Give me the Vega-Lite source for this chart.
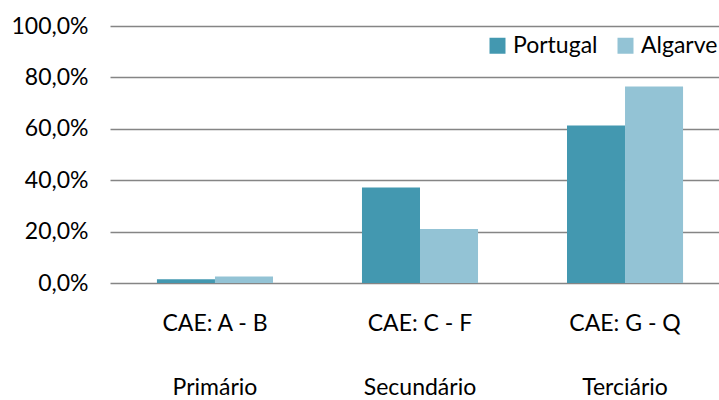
{
  "$schema": "https://vega.github.io/schema/vega-lite/v6.json",
  "width": 620,
  "height": 257,
  "autosize": {"type": "none"},
  "padding": {"left": 110, "top": 26, "right": 0, "bottom": 117},
  "background": "white",
  "config": {"view": {"stroke": null}, "font": "Lato"},
  "data": {"values": [
    {"grupo": "CAE: A - B|Primário", "serie": "Portugal", "valor": 0.015},
    {"grupo": "CAE: A - B|Primário", "serie": "Algarve", "valor": 0.025},
    {"grupo": "CAE: C - F|Secundário", "serie": "Portugal", "valor": 0.372},
    {"grupo": "CAE: C - F|Secundário", "serie": "Algarve", "valor": 0.21},
    {"grupo": "CAE: G - Q|Terciário", "serie": "Portugal", "valor": 0.613},
    {"grupo": "CAE: G - Q|Terciário", "serie": "Algarve", "valor": 0.765}
  ]},
  "mark": {"type": "bar"},
  "encoding": {
    "x": {
      "field": "grupo", "type": "nominal", "sort": null,
      "scale": {"paddingInner": 0.434, "paddingOuter": 0.229},
      "axis": {
        "title": null, "labelAngle": 0, "ticks": false, "domain": false,
        "labelExpr": "split(datum.value, '|')",
        "labelLineHeight": 64, "labelFontSize": 23, "labelColor": "#000000",
        "labelPadding": 29, "labelBaseline": "top"
      }
    },
    "xOffset": {"field": "serie", "type": "nominal", "sort": ["Portugal", "Algarve"], "scale": {"paddingInner": 0}},
    "y": {
      "field": "valor", "type": "quantitative",
      "scale": {"domain": [0, 1]},
      "axis": {
        "title": null, "values": [0, 0.2, 0.4, 0.6, 0.8, 1],
        "labelExpr": "replace(format(datum.value, '.1%'), '.', ',')",
        "ticks": false, "domain": false, "labelPadding": 22,
        "labelFontSize": 23, "labelColor": "#000000",
        "grid": true, "gridColor": "#858585", "gridWidth": 1.6
      }
    },
    "color": {
      "field": "serie", "type": "nominal", "sort": ["Portugal", "Algarve"],
      "scale": {"domain": ["Portugal", "Algarve"], "range": ["#4398B0", "#93C3D5"]},
      "legend": {
        "title": null, "orient": "none", "direction": "horizontal",
        "legendX": 376, "legendY": 8,
        "symbolType": "square", "symbolSize": 256, "symbolStrokeWidth": 0,
        "labelFontSize": 23, "labelColor": "#000000", "columnPadding": 16, "labelOffset": 4
      }
    }
  }
}
